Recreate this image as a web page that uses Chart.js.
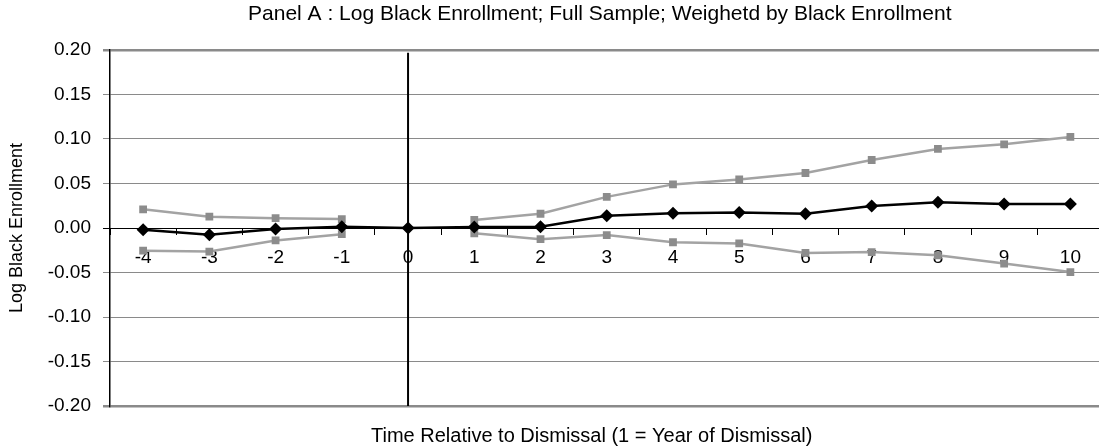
<!DOCTYPE html>
<html>
<head>
<meta charset="utf-8">
<script src="https://cdn.jsdelivr.net/npm/chart.js@4.4.0/dist/chart.umd.min.js"></script>
<style>
  html, body { margin: 0; padding: 0; background: #fff; overflow: hidden; }
  #wrap { width: 1099px; height: 447px; overflow: hidden; }
</style>
</head>
<body>
<div id="wrap"><canvas id="chart" width="1110" height="447"></canvas></div>
<script>
const years = ['-4', '-3', '-2', '-1', '0', '1', '2', '3', '4', '5', '6', '7', '8', '9', '10'];
const estimate = [-0.002, -0.0075, -0.001, 0.0015, 0.0, 0.001, 0.0015, 0.0137, 0.0167, 0.0173, 0.016, 0.0247, 0.029, 0.027, 0.027];
const upperCI = [0.021, 0.0127, 0.011, 0.010, null, 0.009, 0.016, 0.035, 0.049, 0.0546, 0.0618, 0.0764, 0.0888, 0.094, 0.1023];
const lowerCI = [-0.0255, -0.0265, -0.014, -0.007, null, -0.006, -0.0125, -0.008, -0.016, -0.0173, -0.028, -0.027, -0.0307, -0.040, -0.0495];
const dismissalLine = [{ x: '0', y: 0.197 }, { x: '0', y: -0.20 }];
const yTicks = [0.20, 0.15, 0.10, 0.05, 0.00, -0.05, -0.10, -0.15, -0.20];

const FONT = '"Liberation Sans", Arial, sans-serif';
const chartTitle = 'Panel A : Log Black Enrollment; Full Sample; Weighetd by Black Enrollment';
const xTitle = 'Time Relative to Dismissal (1 = Year of Dismissal)';

// titles centred on the plot area, like the original
const titlePlugin = {
    id: 'plotTitles',
    afterDraw(chart) {
        const { ctx, chartArea } = chart;
        const cx = (chartArea.left + chartArea.right) / 2;
        ctx.save();
        ctx.fillStyle = '#000';
        ctx.textAlign = 'center';
        ctx.textBaseline = 'middle';
        ctx.font = '21px ' + FONT;
        ctx.fillText(chartTitle, cx - 7, 14);
        ctx.font = '20px ' + FONT;
        ctx.fillText(xTitle, cx - 15, 436);
        ctx.restore();
    }
};

const grey = '#a3a3a3';
const greyMarker = '#8c8c8c';

new Chart(document.getElementById('chart'), {
    type: 'line',
    data: {
        labels: years,
        datasets: [
            {
                label: 'Dismissal',
                data: dismissalLine,
                borderColor: '#000',
                borderWidth: 2,
                pointRadius: 0,
                order: 0
            },
            {
                label: 'Estimate',
                data: estimate,
                borderColor: '#000',
                backgroundColor: '#000',
                borderWidth: 2.5,
                pointStyle: 'rectRot',
                pointRadius: 6.5,
                pointBorderWidth: 0,
                order: 1
            },
            {
                label: 'Upper',
                data: upperCI,
                borderColor: grey,
                backgroundColor: greyMarker,
                borderWidth: 2.5,
                pointStyle: 'rect',
                pointRadius: 5.5,
                pointBorderWidth: 0,
                spanGaps: false,
                order: 2
            },
            {
                label: 'Lower',
                data: lowerCI,
                borderColor: grey,
                backgroundColor: greyMarker,
                borderWidth: 2.5,
                pointStyle: 'rect',
                pointRadius: 5.5,
                pointBorderWidth: 0,
                spanGaps: false,
                order: 2
            }
        ]
    },
    options: {
        responsive: false,
        animation: false,
        layout: {
            padding: { top: 50, bottom: 41, right: 0, left: 0 }
        },
        plugins: {
            legend: { display: false },
            tooltip: { enabled: false },
            title: { display: false }
        },
        scales: {
            x: {
                type: 'category',
                position: { y: 0 },
                offset: true,
                grid: {
                    offset: true,
                    drawOnChartArea: false,
                    drawTicks: true,
                    tickLength: 6,
                    tickColor: '#000'
                },
                border: { color: '#000', width: 1 },
                ticks: {
                    color: '#000',
                    font: { family: FONT, size: 19 },
                    padding: 12,
                    maxRotation: 0,
                    autoSkip: false
                }
            },
            y: {
                min: -0.20,
                max: 0.20,
                afterBuildTicks(scale) {
                    scale.ticks = yTicks.map(v => ({ value: v }));
                },
                afterFit(scale) {
                    scale.width = 110;
                },
                grid: {
                    color(ctx) {
                        const v = ctx.tick ? ctx.tick.value : 0;
                        if (Math.abs(v) < 1e-9) return '#000';
                        return '#8a8a8a';
                    },
                    lineWidth(ctx) {
                        const v = ctx.tick ? ctx.tick.value : 0;
                        return Math.abs(Math.abs(v) - 0.2) < 1e-9 ? 2.5 : 1;
                    },
                    tickLength: 7
                },
                border: { color: '#000', width: 1.5 },
                ticks: {
                    color: '#000',
                    font: { family: FONT, size: 19 },
                    padding: 12,
                    callback: v => v.toFixed(2)
                },
                title: {
                    display: true,
                    text: 'Log Black Enrollment',
                    color: '#000',
                    font: { family: FONT, size: 18 },
                    padding: { top: 6, bottom: 0 }
                }
            }
        }
    },
    plugins: [titlePlugin]
});
</script>
</body>
</html>
